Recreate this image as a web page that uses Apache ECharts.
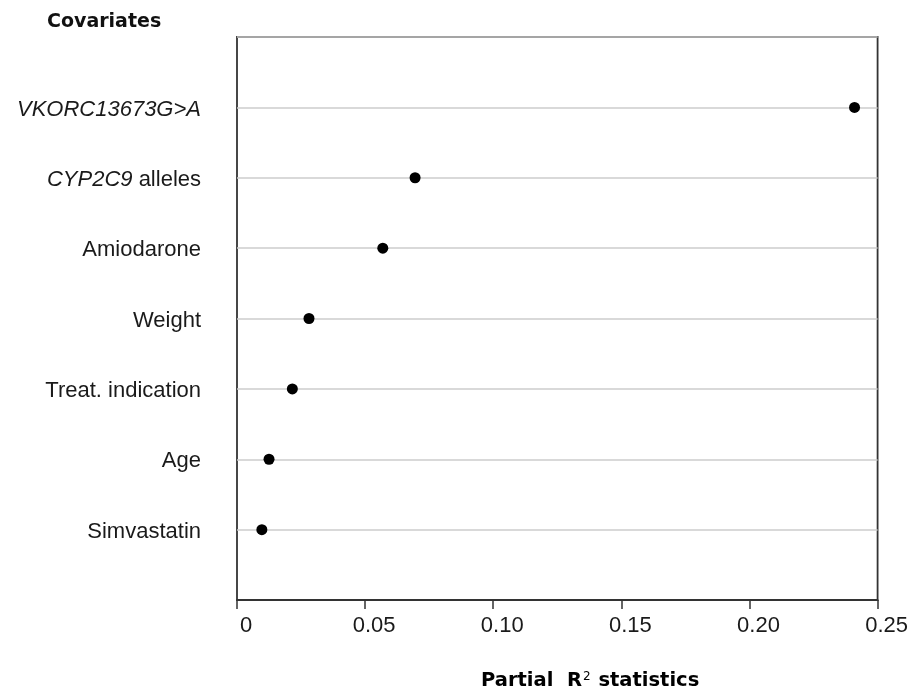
<!DOCTYPE html>
<html>
<head>
<meta charset="utf-8">
<script src="https://cdn.jsdelivr.net/npm/echarts@6/dist/echarts.min.js"></script>
<style>html,body{margin:0;padding:0;background:#fff}#c{width:911px;height:693px}</style>
</head>
<body>
<div id="c"></div>
<script>
const covariates = ['VKORC13673G>A', 'CYP2C9 alleles', 'Amiodarone', 'Weight', 'Treat. indication', 'Age', 'Simvastatin'];
const partialR2 = [0.241, 0.0695, 0.0569, 0.0281, 0.0216, 0.0125, 0.0097];
const xTicks = [0, 0.05, 0.10, 0.15, 0.20, 0.25];
const xTickLabels = ['0', '0.05', '0.10', '0.15', '0.20', '0.25'];

const n = covariates.length;
const posOf = i => n - i;
const data = partialR2.map((v, i) => [v, posOf(i)]);

const FONT = 'Liberation Sans, Arial, sans-serif';
const labelRich = {
  it: { fontStyle: 'italic', fontFamily: FONT, fontSize: 22, color: '#1a1a1a', padding: [4, 0, 0, 0] },
  n: { fontFamily: FONT, fontSize: 22, color: '#1a1a1a', padding: [4, 0, 0, 0] }
};
function yLabel(val) {
  const idx = n - Math.round(val);
  if (idx < 0 || idx >= n || Math.abs(val - Math.round(val)) > 1e-6) return '';
  const name = covariates[idx];
  if (name === 'VKORC13673G>A') return '{it|' + name + '}';
  if (name.startsWith('CYP2C9')) return '{it|CYP2C9}{n|' + name.slice(6) + '}';
  return '{n|' + name + '}';
}

const chart = echarts.init(document.getElementById('c'));
chart.setOption({
  animation: false,
  backgroundColor: '#ffffff',
  grid: { left: 237, right: 32, top: 37, bottom: 93, show: true, borderColor: '#333', borderWidth: 1.8, backgroundColor: 'transparent' },
  xAxis: {
    type: 'value', min: 0, max: 0.25, interval: 0.05,
    axisLine: { show: true, lineStyle: { color: '#333', width: 1.8 } },
    axisTick: { show: true, inside: false, length: 9, lineStyle: { color: '#333', width: 1.5 } },
    splitLine: { show: false },
    axisLabel: {
      margin: 15, fontFamily: FONT, fontSize: 22, color: '#1a1a1a', padding: [0, 0, 0, 18],
      formatter: v => { const i = xTicks.findIndex(t => Math.abs(t - v) < 1e-9); return i >= 0 ? xTickLabels[i] : ''; }
    }
  },
  yAxis: {
    type: 'value', min: 0, max: n + 1, interval: 1,
    axisLine: { show: false }, axisTick: { show: false },
    splitLine: { show: true, lineStyle: { color: '#cccccc', width: 1.6 } },
    axisLabel: { margin: 36, formatter: yLabel, rich: labelRich }
  },
  graphic: [
    { type: 'text', left: 47, top: 13, style: { text: 'Covariates', fontFamily: 'DejaVu Sans, Verdana, sans-serif', fontWeight: 'bold', fontSize: 19, fill: '#111' } },
    { type: 'text', left: 481, top: 671, style: {
        text: '{b|Partial  R}{s|2}{b| statistics}',
        rich: {
          b: { fontFamily: 'DejaVu Sans, Verdana, sans-serif', fontWeight: 'bold', fontSize: 19.5, color: '#111' },
          s: { fontFamily: 'DejaVu Sans, Verdana, sans-serif', fontSize: 12, color: '#111', verticalAlign: 'top', padding: [0, 1, 8, 1] }
        }
      } }
  ],
  series: [{
    type: 'scatter', data: data, symbol: 'circle', symbolSize: 11,
    itemStyle: { color: '#000', opacity: 1 }
  }]
});
</script>
</body>
</html>
